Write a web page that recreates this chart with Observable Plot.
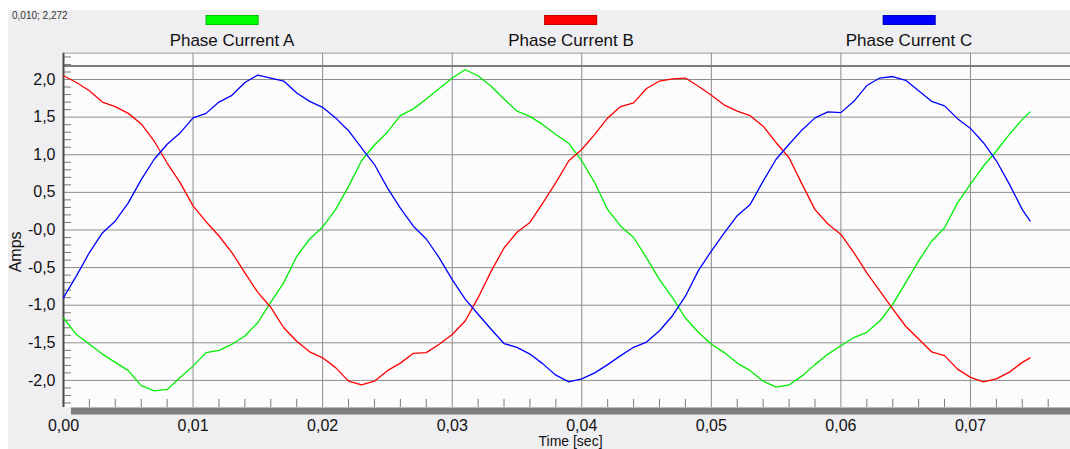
<!DOCTYPE html>
<html>
<head>
<meta charset="utf-8">
<script src="https://cdn.jsdelivr.net/npm/d3@7"></script>
<script src="https://cdn.jsdelivr.net/npm/@observablehq/plot@0.6"></script>
<style>
  html, body { margin: 0; padding: 0; background: #ffffff; width: 1070px; height: 449px; overflow: hidden;
    font-family: "Liberation Sans", Arial, sans-serif; }
  #panel { position: absolute; left: 8px; top: 10px; width: 1062px; height: 439px; background: #efeef1; }
  #readout { position: absolute; left: 12px; top: 11px; font-size: 10px; line-height: 10px; color: #333; }
  .item { position: absolute; top: 15px; transform: translateX(-50%); display: flex; flex-direction: column; align-items: center; }
  .swatch { width: 53px; height: 10px; box-sizing: border-box; border: 1px solid rgba(0,0,0,0.25); }
  .item span { margin-top: 7px; font-size: 17px; line-height: 17px; color: #111; white-space: nowrap; }
  #chart { position: absolute; left: 0; top: 44px; }
</style>
</head>
<body>
<div id="panel"></div>
<div id="readout">0,010; 2,272</div>
<div id="legend"></div>
<div id="chart"></div>
<script>
// Sample times (ms) and the three phase currents (A)
const timeMs = [
  0, 1, 2, 3, 4, 5, 6, 7, 8, 9,
  10, 11, 12, 13, 14, 15, 16, 17, 18, 19,
  20, 21, 22, 23, 24, 25, 26, 27, 28, 29,
  30, 31, 32, 33, 34, 35, 36, 37, 38, 39,
  40, 41, 42, 43, 44, 45, 46, 47, 48, 49,
  50, 51, 52, 53, 54, 55, 56, 57, 58, 59,
  60, 61, 62, 63, 64, 65, 66, 67, 68, 69,
  70, 71, 72, 73, 74, 74.6
];
const phaseA = [
  -1.17, -1.39, -1.52, -1.65, -1.76, -1.87, -2.07, -2.14, -2.12, -1.96,
  -1.81, -1.63, -1.60, -1.52, -1.41, -1.23, -0.96, -0.70, -0.35, -0.12,
  0.04, 0.27, 0.58, 0.92, 1.13, 1.30, 1.52, 1.61, 1.74, 1.88,
  2.02, 2.13, 2.05, 1.91, 1.74, 1.58, 1.51, 1.40, 1.27, 1.15,
  0.92, 0.63, 0.27, 0.05, -0.10, -0.37, -0.66, -0.90, -1.17, -1.36,
  -1.52, -1.63, -1.77, -1.87, -2.01, -2.09, -2.06, -1.94, -1.79, -1.65,
  -1.54, -1.43, -1.36, -1.21, -0.99, -0.70, -0.41, -0.15, 0.03, 0.36,
  0.61, 0.85, 1.05, 1.27, 1.47, 1.57
];
const phaseB = [
  2.05, 1.96, 1.85, 1.70, 1.64, 1.55, 1.41, 1.18, 0.89, 0.63,
  0.32, 0.11, -0.08, -0.30, -0.57, -0.83, -1.03, -1.30, -1.48, -1.62,
  -1.70, -1.83, -2.01, -2.06, -2.01, -1.87, -1.77, -1.64, -1.63, -1.52,
  -1.39, -1.21, -0.90, -0.55, -0.24, -0.03, 0.10, 0.36, 0.63, 0.92,
  1.07, 1.27, 1.49, 1.64, 1.69, 1.88, 1.98, 2.01, 2.02, 1.91,
  1.79, 1.66, 1.58, 1.52, 1.38, 1.16, 0.96, 0.61, 0.27, 0.08,
  -0.06, -0.30, -0.57, -0.81, -1.05, -1.28, -1.45, -1.62, -1.67, -1.85,
  -1.96, -2.02, -1.98, -1.89, -1.76, -1.70
];
const phaseC = [
  -0.90, -0.61, -0.30, -0.04, 0.12, 0.36, 0.67, 0.94, 1.14, 1.29,
  1.49, 1.55, 1.70, 1.79, 1.96, 2.06, 2.02, 1.98, 1.82, 1.71,
  1.63, 1.49, 1.32, 1.09, 0.87, 0.56, 0.29, 0.05, -0.12, -0.37,
  -0.66, -0.92, -1.12, -1.32, -1.51, -1.56, -1.65, -1.78, -1.93, -2.02,
  -1.98, -1.90, -1.79, -1.67, -1.56, -1.49, -1.34, -1.14, -0.88, -0.54,
  -0.28, -0.04, 0.19, 0.34, 0.65, 0.94, 1.14, 1.33, 1.49, 1.57,
  1.56, 1.71, 1.92, 2.02, 2.04, 1.99, 1.85, 1.71, 1.65, 1.48,
  1.35, 1.16, 0.92, 0.61, 0.27, 0.12
];

const seriesNames = ["Phase Current A", "Phase Current B", "Phase Current C"];
const seriesColors = ["#00ee00", "#ff0000", "#0000ff"];
const swatchColors = ["#00ff00", "#ff0000", "#0000ff"];

// Axis ticks and their printed labels
const xTicks = [0, 0.01, 0.02, 0.03, 0.04, 0.05, 0.06, 0.07];
const xTickLabels = ["0,00", "0,01", "0,02", "0,03", "0,04", "0,05", "0,06", "0,07"];
const xMinorTicks = [0.002, 0.004, 0.006, 0.008, 0.012, 0.014, 0.016, 0.018, 0.022, 0.024, 0.026, 0.028,
  0.032, 0.034, 0.036, 0.038, 0.042, 0.044, 0.046, 0.048, 0.052, 0.054, 0.056, 0.058,
  0.062, 0.064, 0.066, 0.068, 0.072, 0.074, 0.076];
const yTicks = [2, 1.5, 1, 0.5, 0, -0.5, -1, -1.5, -2];
const yTickLabels = ["2,0", "1,5", "1,0", "0,5", "-0,0", "-0,5", "-1,0", "-1,5", "-2,0"];
const yMinorTicks = [2.3, 2.2, 2.1, 1.9, 1.8, 1.7, 1.6, 1.4, 1.3, 1.2, 1.1, 0.9, 0.8, 0.7, 0.6,
  0.4, 0.3, 0.2, 0.1, -0.1, -0.2, -0.3, -0.4, -0.6, -0.7, -0.8, -0.9, -1.1, -1.2, -1.3, -1.4,
  -1.6, -1.7, -1.8, -1.9, -2.1, -2.2, -2.3];

const xDomain = [0, 0.07772];
const yDomain = [-2.36, 2.35];
const upperLimit = 2.18;

// Long-format rows for the line mark
const phases = [phaseA, phaseB, phaseC];
const rows = [];
phases.forEach((values, s) => {
  values.forEach((v, i) => rows.push({t: timeMs[i] / 1000, v, series: seriesNames[s]}));
});

// Legend above the plot
const legendCenters = [232, 571, 909];
const legend = document.getElementById("legend");
seriesNames.forEach((name, i) => {
  const item = document.createElement("div");
  item.className = "item";
  item.style.left = legendCenters[i] + "px";
  const sw = document.createElement("div");
  sw.className = "swatch";
  sw.style.background = swatchColors[i];
  const label = document.createElement("span");
  label.textContent = name;
  item.append(sw, label);
  legend.append(item);
});

const labelFor = (ticks, labels) => d => labels[ticks.indexOf(d)];

const chart = Plot.plot({
  width: 1070,
  height: 405,
  marginLeft: 63,
  marginRight: 0,
  marginTop: 8.7,
  marginBottom: 42,
  style: {background: "transparent", fontFamily: "Liberation Sans, Arial, sans-serif", color: "#111"},
  x: {domain: xDomain, label: null},
  y: {domain: yDomain, label: null},
  color: {domain: seriesNames, range: seriesColors},
  marks: [
    Plot.frame({fill: "#fcfcfd", stroke: null}),
    Plot.gridX(xTicks.slice(1), {stroke: "#8c8c8c", strokeOpacity: 1}),
    Plot.gridY(yTicks, {stroke: "#8c8c8c", strokeOpacity: 1}),
    Plot.ruleY([yDomain[1]], {stroke: "#a0a0a0", strokeWidth: 1}),
    Plot.ruleY([upperLimit], {stroke: "#7d7d7d", strokeWidth: 2}),
    Plot.ruleY([yDomain[0]], {stroke: "#7f7f7f", strokeWidth: 7, dy: 3.5, insetLeft: 8}),
    Plot.axisX(xMinorTicks, {anchor: "bottom", tickSize: -8, tickFormat: () => "", stroke: "#7a7a7a", label: null}),
    Plot.axisY(yMinorTicks, {anchor: "left", tickSize: -8, tickFormat: () => "", stroke: "#7a7a7a", label: null}),
    Plot.axisX(xTicks, {anchor: "bottom", tickSize: 0, tickPadding: 12, fontSize: 16,
      tickFormat: labelFor(xTicks, xTickLabels), label: null}),
    Plot.axisY(yTicks, {anchor: "left", tickSize: 0, tickPadding: 8, fontSize: 16,
      tickFormat: labelFor(yTicks, yTickLabels), label: null}),
    Plot.ruleX([0], {stroke: "#4a4a4a", strokeWidth: 2}),
    Plot.line(rows, {x: "t", y: "v", z: "series", stroke: "series", strokeWidth: 1.3}),
    Plot.text(["Amps"], {frameAnchor: "left", rotate: -90, dx: -48, dy: 42, fontSize: 16}),
    Plot.text(["Time [sec]"], {frameAnchor: "bottom", lineAnchor: "top", dx: 3.5, dy: 28.5, fontSize: 14})
  ]
});
document.getElementById("chart").append(chart);
</script>
</body>
</html>
